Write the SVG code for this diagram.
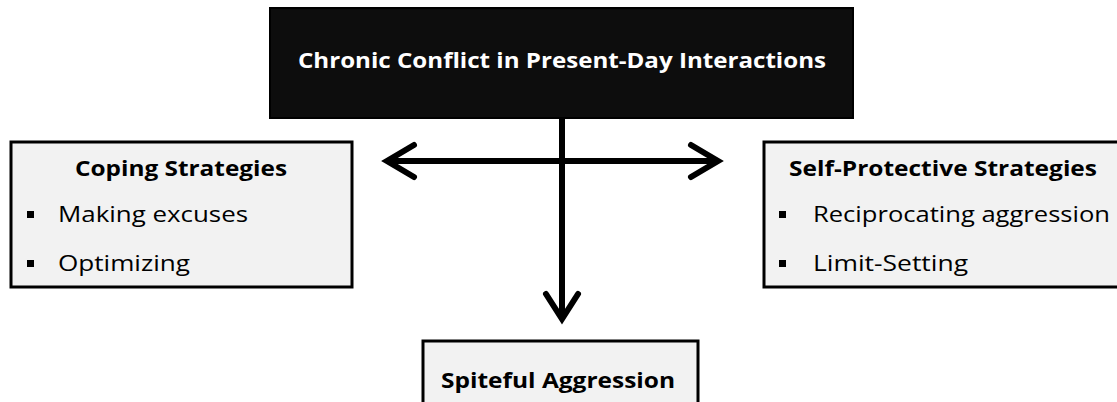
<svg xmlns="http://www.w3.org/2000/svg" width="1117" height="402" viewBox="0 0 1117 402">
<defs>
<style>
.box{fill:#f2f2f2;stroke:#000;stroke-width:3}
.t{font-family:"Open Sans","Liberation Sans",sans-serif;font-size:22px;fill:#000}
.b{font-weight:bold}
.w{fill:#fff}
.ln{stroke:#000;stroke-width:6;fill:none}
.hd{stroke:#000;stroke-width:6;fill:none;stroke-linecap:round;stroke-linejoin:miter}
.bul{fill:#000}
</style>
</defs>
<rect width="1117" height="402" fill="#fff"/>
<g id="top">
<rect x="270" y="8" width="583" height="110" fill="#0d0d0d" stroke="#000" stroke-width="2"/>
<text class="t b w" x="298" y="68" textLength="528" lengthAdjust="spacingAndGlyphs">Chronic Conflict in Present-Day Interactions</text>
</g>
<g id="coping">
<rect class="box" x="11" y="142" width="341" height="145"/>
<text class="t b" x="75" y="176" textLength="212" lengthAdjust="spacingAndGlyphs">Coping Strategies</text>
<rect class="bul" x="27" y="211" width="7" height="7"/>
<text class="t" x="58" y="222" textLength="190" lengthAdjust="spacingAndGlyphs">Making excuses</text>
<rect class="bul" x="27" y="260" width="7" height="7"/>
<text class="t" x="58" y="271" textLength="132" lengthAdjust="spacingAndGlyphs">Optimizing</text>
</g>
<g id="selfprotective">
<rect class="box" x="764" y="142" width="360" height="145"/>
<text class="t b" x="789" y="176" textLength="308" lengthAdjust="spacingAndGlyphs">Self-Protective Strategies</text>
<rect class="bul" x="779" y="211" width="7" height="7"/>
<text class="t" x="813" y="222" textLength="297" lengthAdjust="spacingAndGlyphs">Reciprocating aggression</text>
<rect class="bul" x="779" y="260" width="7" height="7"/>
<text class="t" x="813" y="271" textLength="155" lengthAdjust="spacingAndGlyphs">Limit-Setting</text>
</g>
<g id="spiteful">
<rect class="box" x="423" y="341" width="275" height="70"/>
<text class="t b" x="441" y="388" textLength="234" lengthAdjust="spacingAndGlyphs">Spiteful Aggression</text>
</g>
<g id="connectors">
<line class="ln" x1="562" y1="118" x2="562" y2="318"/>
<line class="ln" x1="387" y1="161" x2="718" y2="161"/>
<polyline class="hd" points="414,145 387,161 414,177"/>
<polyline class="hd" points="691,145 718,161 691,177"/>
<polyline class="hd" points="546,294 562,319 578,294"/>
</g>
</svg>
